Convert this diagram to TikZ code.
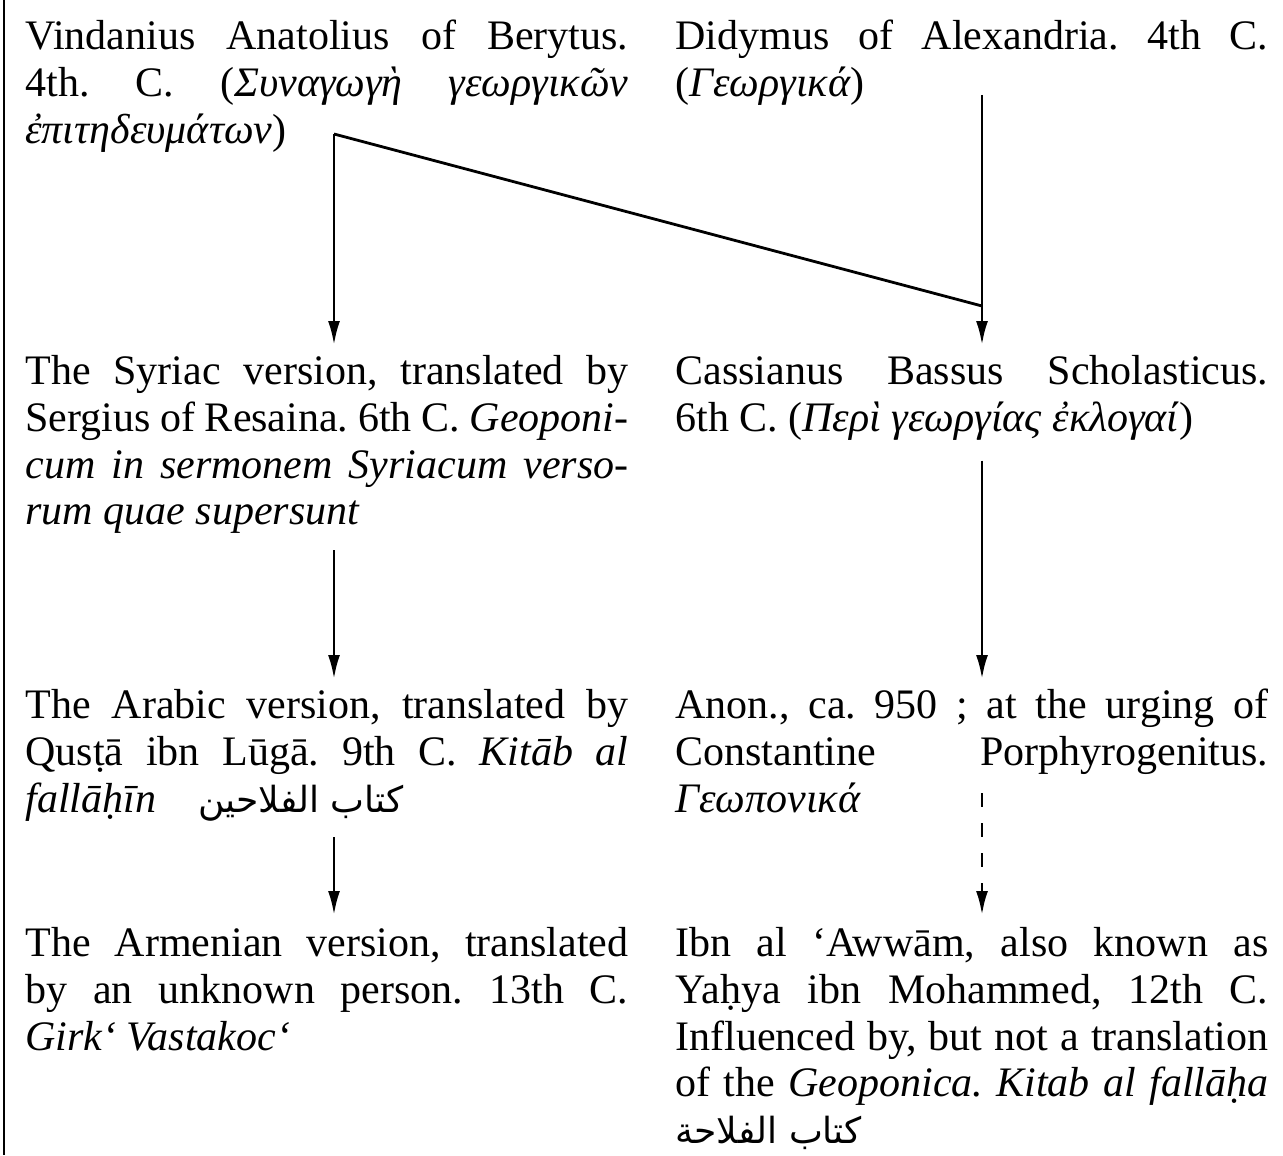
\documentclass[tikz,border=0pt]{standalone}
\usepackage{fontspec}
\setmainfont{Liberation Serif}
\newfontfamily\arabicfont[Script=Arabic]{DejaVu Sans}
\TeXXeTstate=1
\usepackage{tikz}
\usetikzlibrary{arrows.meta}
\newcommand{\entryfont}{\fontsize{21}{23.4}\selectfont\frenchspacing}
\newcommand{\arab}[1]{{\arabicfont\fontsize{18}{20}\selectfont\beginR #1\endR}}

\begin{document}
\begin{tikzpicture}[x=0.5pt, y=-0.5pt,
		entry/.style={anchor=north west, inner sep=0pt, align=justify, font=\entryfont},
		leftcol/.style={entry, text width=301.5pt},
		rightcol/.style={entry, text width=296.5pt},
		arr/.style={-{Latex[length=12pt, width=6pt]}, line width=1.4pt}]
		\useasboundingbox (0, 0) rectangle (1283, 1155);
		\draw [line width=1.4pt] (4, 0) -- (4, 1155);
		\node [leftcol] (anatolius) at (25, 20) {Vindanius Anatolius of Berytus.\linebreak 4th. C. (\textit{Συναγωγὴ γεωργικῶν}\linebreak \textit{ἐπιτηδευμάτων})};
		\node [rightcol] (didymus) at (675, 20) {Didymus of Alexandria. 4th C.\linebreak (\textit{Γεωργικά})};
		\node [leftcol] (syriac) at (25, 355) {The Syriac version, translated by\linebreak Sergius of Resaina. 6th C. \textit{Geoponi-}\linebreak \textit{cum in sermonem Syriacum verso-}\linebreak \textit{rum quae supersunt}};
		\node [rightcol] (bassus) at (675, 355) {Cassianus Bassus Scholasticus.\linebreak 6th C. (\textit{Περὶ γεωργίας ἐκλογαί})};
		\node [leftcol] (arabic) at (25, 689) {The Arabic version, translated by\linebreak Qusṭā ibn Lūgā. 9th C. \textit{Kitāb al}\linebreak \textit{fallāḥīn}\quad \arab{كتاب الفلاحين}};
		\node [rightcol] (anon) at (675, 689) {Anon., ca. 950 ; at the urging of\linebreak Constantine Porphyrogenitus.\linebreak \textit{Γεωπονικά}};
		\node [leftcol] (armenian) at (25, 927) {The Armenian version, translated\linebreak by an unknown person. 13th C.\linebreak \textit{Girk‘ Vastakoc‘}};
		\node [rightcol] (awwam) at (675, 927) {Ibn al ‘Awwām, also known as\linebreak Yaḥya ibn Mohammed, 12th C.\linebreak Influenced by, but not a translation\linebreak of the \textit{Geoponica. Kitab al fallāḥa}\linebreak \arab{كتاب الفلاحة}};
		\coordinate (join) at (334, 134);
		\coordinate (merge) at (982, 306);
		\coordinate (didtail) at (982, 95);
		\draw [line width=1.4pt] (join) -- (merge);
		\draw [arr, shorten >=5pt] (join) -- (syriac.north -| join);
		\draw [arr, shorten >=5pt] (didtail) -- (bassus.north -| didtail);
		\draw [arr, shorten <=8pt, shorten >=5pt] (syriac.south -| join) -- (arabic.north -| join);
		\draw [arr, shorten <=10pt, shorten >=5pt] (bassus.south -| merge) -- (anon.north -| merge);
		\draw [arr, shorten <=8pt, shorten >=6pt] (arabic.south -| join) -- (armenian.north -| join);
		\draw [arr, dash pattern=on 7pt off 8pt, shorten <=-10pt, shorten >=6pt] (anon.south -| merge) -- (awwam.north -| merge);
	\end{tikzpicture}
\end{document}
